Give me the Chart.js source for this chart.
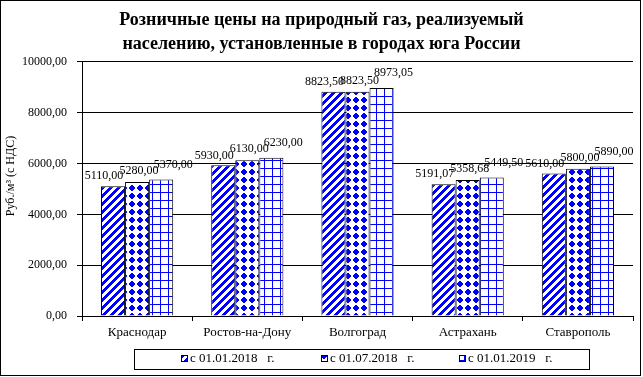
<!DOCTYPE html>
<html>
<head>
<meta charset="utf-8">
<title>Розничные цены на природный газ</title>
<script src="https://cdn.jsdelivr.net/npm/chart.js@4.4.0/dist/chart.umd.min.js"></script>
<style>
  body { margin: 0; background: #fff; overflow: hidden; }
  canvas { display: block; }
</style>
</head>
<body>
<canvas id="myChart" width="643" height="377"></canvas>
<script>
  // data
  const cities = ['Краснодар', 'Ростов-на-Дону', 'Волгоград', 'Астрахань', 'Ставрополь'];
  const seriesNames = ['с 01.01.2018   г.', 'с 01.07.2018   г.', 'с 01.01.2019   г.'];
  const price2018jan = [5110.00, 5930.00, 8823.50, 5191.07, 5610.00];
  const price2018jul = [5280.00, 6130.00, 8823.50, 5358.68, 5800.00];
  const price2019jan = [5370.00, 6230.00, 8973.05, 5449.50, 5890.00];
  const yTicks = [0, 2000, 4000, 6000, 8000, 10000];

  const FONT = "'Liberation Serif', 'Times New Roman', serif";
  const BLUE = [0, 0, 255];

  // excel-like fill patterns, drawn pixel by pixel on an 8x8 tile
  function makePattern(kind) {
    const c = document.createElement('canvas');
    c.width = 8; c.height = 8;
    const g = c.getContext('2d');
    const img = g.createImageData(8, 8);
    for (let y = 0; y < 8; y++) {
      for (let x = 0; x < 8; x++) {
        let on = false;
        if (kind === 'diag') on = ((x + y) % 8) < 4;
        if (kind === 'diamond') on = Math.abs(x - 3.5) + Math.abs(y - 3.5) <= 3;
        if (kind === 'grid') on = (x === 0 || y === 0);
        const i = (y * 8 + x) * 4;
        img.data[i] = on ? BLUE[0] : 255;
        img.data[i + 1] = on ? BLUE[1] : 255;
        img.data[i + 2] = on ? BLUE[2] : 255;
        img.data[i + 3] = 255;
      }
    }
    g.putImageData(img, 0, 0);
    return g.createPattern(c, 'repeat');
  }

  const patterns = [makePattern('diag'), makePattern('diamond'), makePattern('grid')];

  function fmt(v) {
    return v.toFixed(2).replace('.', ',');
  }

  // where excel put the value labels, relative to the bar top
  const labelDx = [-9, 2, 12];
  const labelDy = [-10, -11, -15];

  const valueLabels = {
    id: 'valueLabels',
    afterDatasetsDraw(chart) {
      const ctx = chart.ctx;
      ctx.save();
      ctx.font = '12px ' + FONT;
      ctx.fillStyle = '#000';
      ctx.textAlign = 'center';
      ctx.textBaseline = 'middle';
      chart.data.datasets.forEach((ds, i) => {
        chart.getDatasetMeta(i).data.forEach((bar, j) => {
          ctx.fillText(fmt(ds.data[j]), bar.x + labelDx[i], bar.y + labelDy[i]);
        });
      });
      ctx.restore();
    }
  };

  const extras = {
    id: 'extras',
    afterDraw(chart) {
      const ctx = chart.ctx;
      ctx.save();
      // outer frame
      ctx.strokeStyle = '#000';
      ctx.lineWidth = 1;
      ctx.strokeRect(0.5, 0.5, 640, 375);

      // y axis title
      ctx.save();
      ctx.translate(11, 176);
      ctx.rotate(-Math.PI / 2);
      ctx.font = '12px ' + FONT;
      ctx.fillStyle = '#000';
      ctx.textAlign = 'center';
      ctx.textBaseline = 'middle';
      ctx.fillText('Руб./м³ (с НДС)', 0, 0);
      ctx.restore();

      // legend box
      ctx.strokeRect(134.5, 349.5, 455, 20);
      const itemX = [181, 321, 459];
      ctx.font = '13px ' + FONT;
      ctx.fillStyle = '#000';
      ctx.textBaseline = 'middle';
      chart.data.datasets.forEach((ds, i) => {
        ctx.fillStyle = patterns[i];
        ctx.fillRect(itemX[i], 355, 7, 7);
        ctx.strokeRect(itemX[i] + 0.5, 355.5, 6, 6);
        ctx.fillStyle = '#000';
        ctx.fillText(ds.label, itemX[i] + 9, 359);
      });
      ctx.restore();
    }
  };

  function makeDataset(i, values) {
    return {
      label: seriesNames[i],
      data: values,
      backgroundColor: patterns[i],
      borderColor: '#000',
      borderWidth: 1,
      categoryPercentage: 0.655,
      barPercentage: 1.0
    };
  }

  const ctx = document.getElementById('myChart');
  const myChart = new Chart(ctx, {
    type: 'bar',
    data: {
      labels: cities,
      datasets: [
        makeDataset(0, price2018jan),
        makeDataset(1, price2018jul),
        makeDataset(2, price2019jan)
      ]
    },
    options: {
      responsive: false,
      animation: false,
      layout: { padding: { left: 10, right: 10, top: 0, bottom: 31 } },
      plugins: {
        legend: { display: false },
        tooltip: { enabled: false },
        title: {
          display: true,
          text: ['Розничные цены на природный газ, реализуемый',
                 'населению, установленные в городах юга России'],
          color: '#000',
          font: { family: FONT, size: 18, weight: 'bold', lineHeight: 1.333 },
          padding: { top: 8, bottom: 6 }
        }
      },
      scales: {
        x: {
          grid: { display: true, drawOnChartArea: false, color: '#000', tickLength: 5 },
          border: { color: '#000' },
          ticks: { color: '#000', font: { family: FONT, size: 13 }, padding: 4, maxRotation: 0 },
          afterFit(scale) { scale.height = 30; }
        },
        y: {
          min: 0,
          max: 10000,
          afterBuildTicks(scale) { scale.ticks = yTicks.map(v => ({ value: v })); },
          grid: { color: '#000', tickLength: 5 },
          border: { color: '#000' },
          ticks: {
            color: '#000',
            font: { family: FONT, size: 12 },
            padding: 10,
            callback: v => fmt(v)
          },
          afterFit(scale) { scale.width = 72; }
        }
      }
    },
    plugins: [valueLabels, extras]
  });
</script>
</body>
</html>
